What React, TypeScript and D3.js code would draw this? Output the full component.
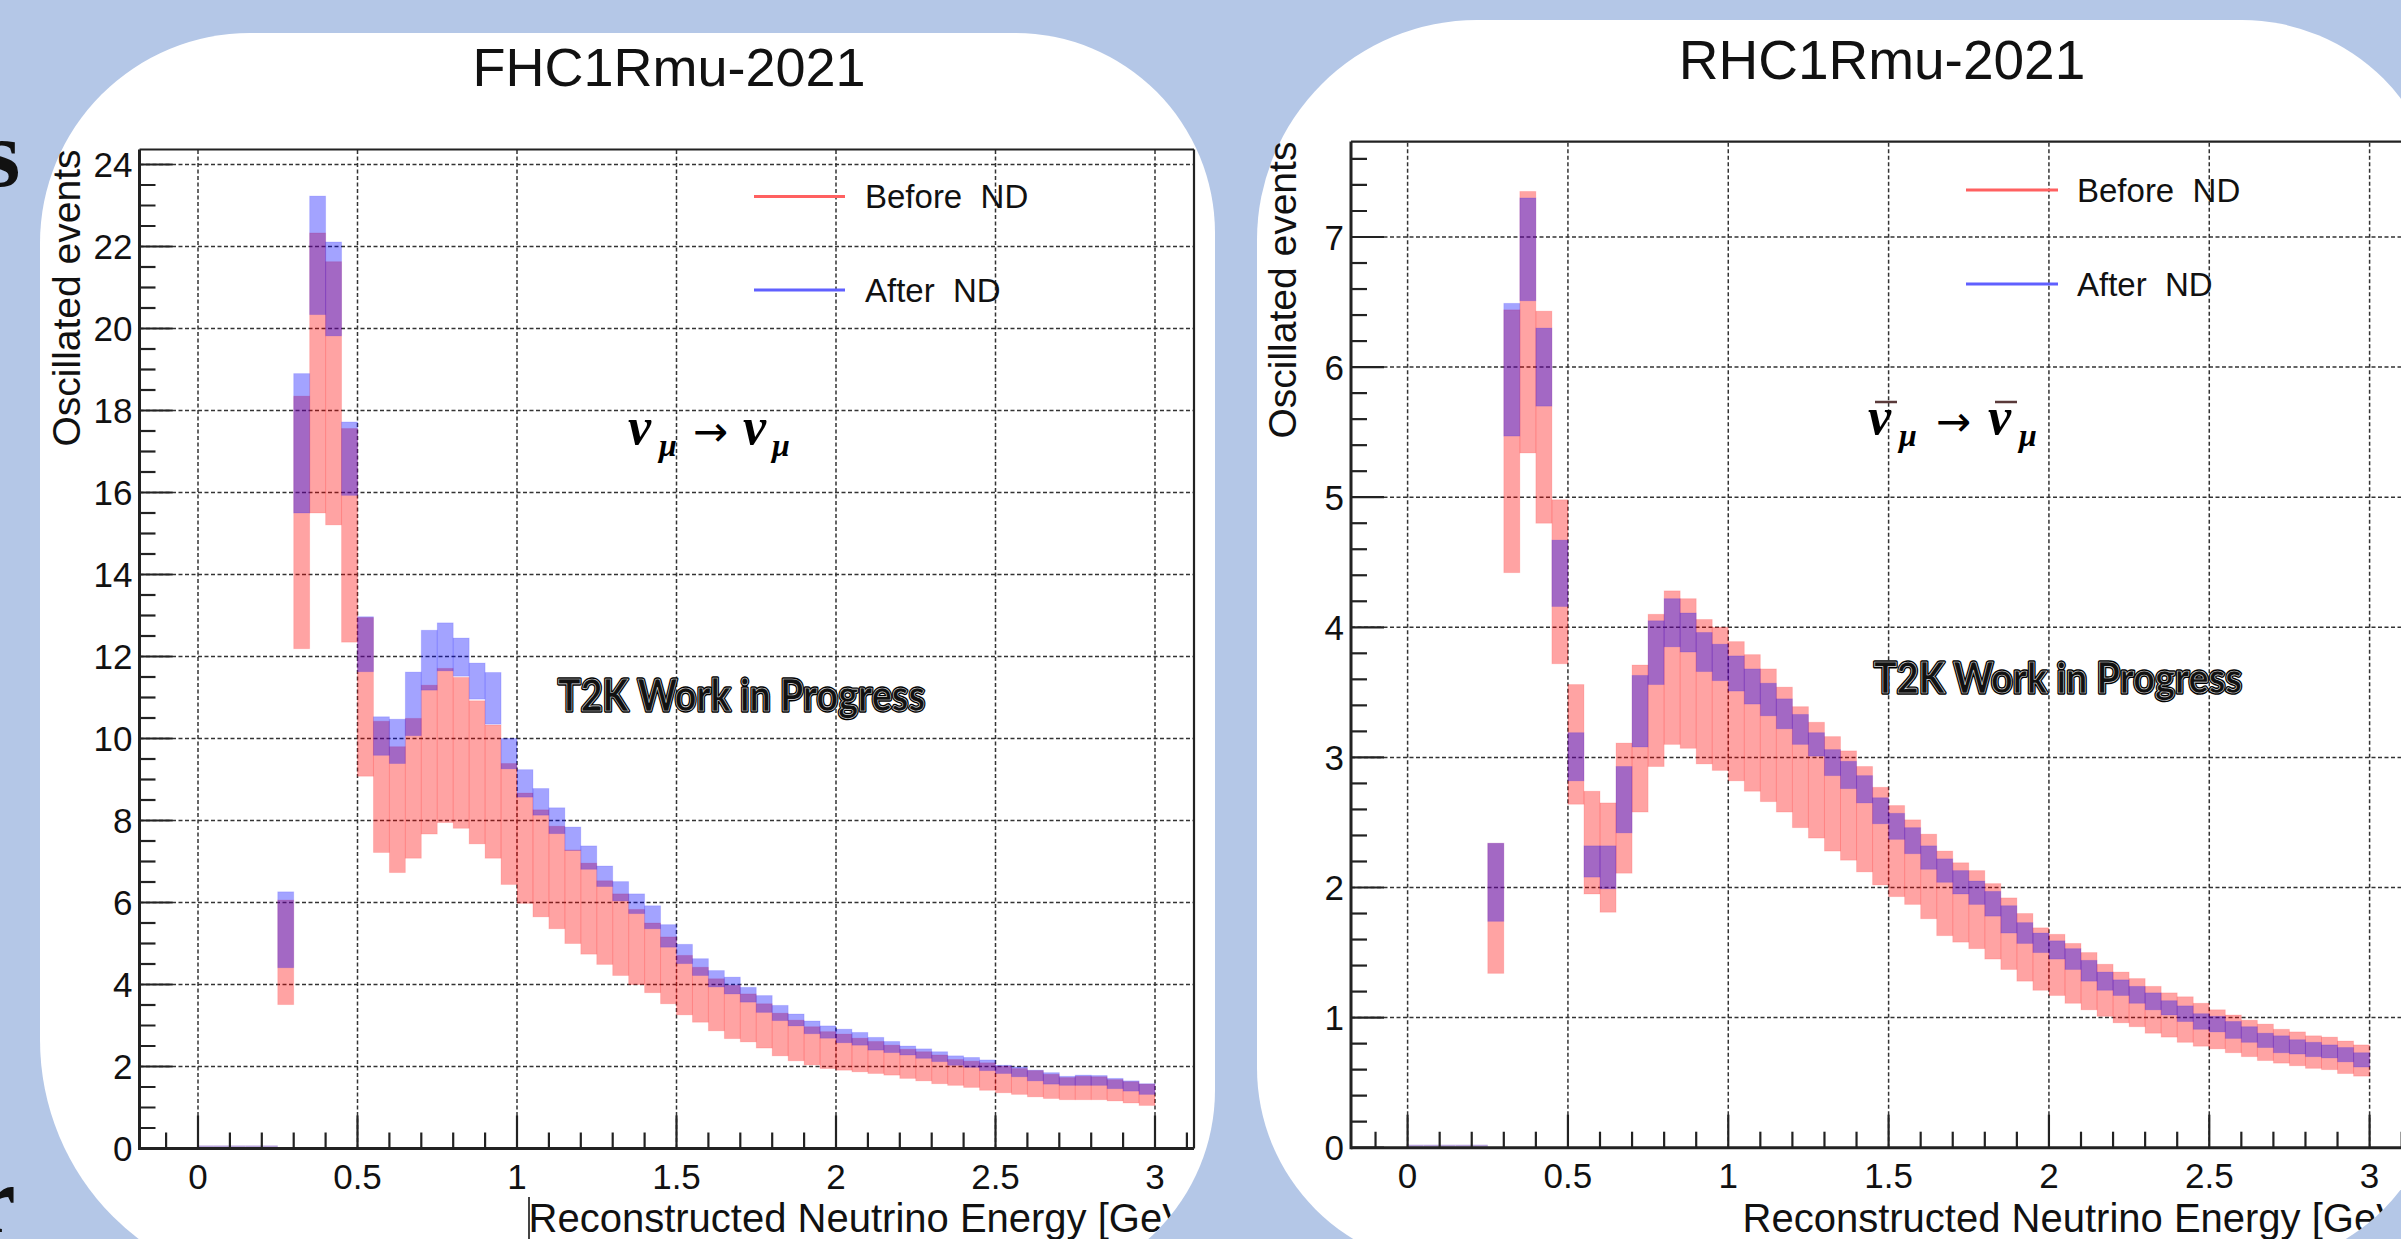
import React from "react";
import * as d3 from "d3";

const W = 2401;
const H = 1239;

// Bin lower edges (GeV), bin width 0.05
const BIN_W = 0.05;
const binStart = [
  0.25, 0.3, 0.35, 0.4, 0.45, 0.5, 0.55, 0.6, 0.65, 0.7, 0.75, 0.8, 0.85, 0.9, 0.95,
  1.0, 1.05, 1.1, 1.15, 1.2, 1.25, 1.3, 1.35, 1.4, 1.45, 1.5, 1.55, 1.6, 1.65, 1.7,
  1.75, 1.8, 1.85, 1.9, 1.95, 2.0, 2.05, 2.1, 2.15, 2.2, 2.25, 2.3, 2.35, 2.4, 2.45,
  2.5, 2.55, 2.6, 2.65, 2.7, 2.75, 2.8, 2.85, 2.9, 2.95,
];
const emptyBinStart = [0, 0.05, 0.1, 0.15, 0.2];

// FHC1Rmu-2021 : error bands
const fhcBeforeLow = [
  3.51, 12.19, 15.5, 15.21, 12.35, 9.08, 7.22, 6.73, 7.08, 7.67, 7.95, 7.81, 7.43, 7.08, 6.44,
  5.98, 5.65, 5.36, 5.0, 4.74, 4.49, 4.22, 4.0, 3.8, 3.53, 3.26, 3.08, 2.87, 2.68, 2.6,
  2.45, 2.26, 2.14, 2.04, 1.95, 1.91, 1.87, 1.83, 1.79, 1.71, 1.65, 1.58, 1.54, 1.49, 1.42,
  1.36, 1.32, 1.26, 1.22, 1.19, 1.19, 1.19, 1.16, 1.11, 1.05,
];
const fhcBeforeHigh = [
  6.06, 18.35, 22.33, 21.63, 17.56, 12.95, 10.42, 9.8, 10.49, 11.3, 11.71, 11.49, 10.92, 10.33, 9.39,
  8.67, 8.26, 7.86, 7.28, 6.96, 6.53, 6.21, 5.83, 5.5, 5.16, 4.71, 4.42, 4.14, 3.98, 3.77,
  3.53, 3.3, 3.13, 2.97, 2.85, 2.79, 2.69, 2.61, 2.52, 2.42, 2.36, 2.28, 2.17, 2.13, 2.09,
  2.01, 1.95, 1.9, 1.81, 1.73, 1.76, 1.75, 1.68, 1.63, 1.57,
];
const fhcAfterLow = [
  4.41, 15.5, 20.34, 19.82, 15.93, 11.63, 9.59, 9.39, 10.07, 11.18, 11.65, 11.52, 10.96, 10.35, 9.26,
  8.57, 8.13, 7.68, 7.27, 6.81, 6.39, 6.04, 5.73, 5.36, 4.91, 4.51, 4.22, 3.94, 3.77, 3.57,
  3.32, 3.12, 2.99, 2.8, 2.69, 2.58, 2.52, 2.4, 2.34, 2.28, 2.2, 2.12, 2.03, 1.98, 1.9,
  1.83, 1.75, 1.65, 1.57, 1.54, 1.54, 1.54, 1.46, 1.4, 1.32,
];
const fhcAfterHigh = [
  6.26, 18.9, 23.23, 22.11, 17.72, 12.97, 10.53, 10.47, 11.62, 12.64, 12.82, 12.45, 11.84, 11.61, 10.0,
  9.24, 8.78, 8.31, 7.84, 7.38, 6.89, 6.51, 6.21, 5.92, 5.46, 4.98, 4.63, 4.34, 4.18, 3.93,
  3.73, 3.49, 3.28, 3.11, 2.99, 2.91, 2.83, 2.71, 2.61, 2.5, 2.43, 2.36, 2.26, 2.22, 2.16,
  2.03, 1.99, 1.91, 1.85, 1.76, 1.79, 1.78, 1.71, 1.65, 1.58,
];

// RHC1Rmu-2021 : error bands
const rhcBeforeLow = [
  1.34, 4.42, 5.34, 4.8, 3.72, 2.64, 1.95, 1.81, 2.11, 2.58, 2.93, 3.1, 3.07, 2.95, 2.9,
  2.82, 2.74, 2.66, 2.58, 2.46, 2.38, 2.28, 2.21, 2.12, 2.02, 1.93, 1.87, 1.76, 1.63, 1.58,
  1.53, 1.45, 1.37, 1.28, 1.21, 1.17, 1.11, 1.06, 1.01, 0.96, 0.93, 0.88, 0.85, 0.81, 0.78,
  0.76, 0.73, 0.7, 0.67, 0.65, 0.63, 0.61, 0.6, 0.57, 0.55,
];
const rhcBeforeHigh = [
  2.34, 6.44, 7.35, 6.43, 4.98, 3.56, 2.74, 2.65, 3.11, 3.71, 4.1, 4.28, 4.22, 4.06, 4.0,
  3.89, 3.79, 3.68, 3.54, 3.39, 3.27, 3.16, 3.05, 2.93, 2.77, 2.63, 2.52, 2.41, 2.28, 2.19,
  2.13, 2.03, 1.92, 1.8, 1.69, 1.64, 1.57, 1.5, 1.41, 1.35, 1.3, 1.24, 1.19, 1.16, 1.11,
  1.06, 1.02, 0.98, 0.95, 0.91, 0.89, 0.86, 0.85, 0.82, 0.79,
];
const rhcAfterLow = [
  1.74, 5.47, 6.51, 5.7, 4.16, 2.82, 2.08, 1.99, 2.42, 3.08, 3.56, 3.85, 3.81, 3.66, 3.59,
  3.51, 3.41, 3.32, 3.22, 3.1, 3.01, 2.86, 2.76, 2.65, 2.49, 2.37, 2.26, 2.14, 2.04, 1.95,
  1.87, 1.78, 1.65, 1.57, 1.5, 1.45, 1.37, 1.28, 1.21, 1.17, 1.11, 1.06, 1.02, 0.97, 0.91,
  0.89, 0.84, 0.81, 0.77, 0.73, 0.72, 0.7, 0.69, 0.66, 0.62,
];
const rhcAfterHigh = [
  2.34, 6.49, 7.3, 6.3, 4.67, 3.19, 2.32, 2.32, 2.93, 3.63, 4.05, 4.22, 4.11, 3.96, 3.87,
  3.78, 3.68, 3.57, 3.45, 3.33, 3.19, 3.06, 2.97, 2.86, 2.69, 2.57, 2.46, 2.32, 2.22, 2.13,
  2.05, 1.97, 1.86, 1.73, 1.65, 1.59, 1.53, 1.44, 1.35, 1.29, 1.24, 1.19, 1.13, 1.09, 1.03,
  1.01, 0.97, 0.93, 0.88, 0.86, 0.83, 0.81, 0.79, 0.77, 0.73,
];

const xTickValues = [0, 0.5, 1, 1.5, 2, 2.5, 3];
const xTickLabels = ["0", "0.5", "1", "1.5", "2", "2.5", "3"];
const fhcYTicks = [0, 2, 4, 6, 8, 10, 12, 14, 16, 18, 20, 22, 24];
const rhcYTicks = [0, 1, 2, 3, 4, 5, 6, 7];
const legendLabels = ["Before  ND", "After  ND"];
const xTitle = "Reconstructed Neutrino Energy [GeV]";
const yTitle = "Oscillated events";
const wipLabel = "T2K Work in Progress";

const RED = "#ff0000";
const BLUE = "#0000ff";
const BAND_OP = 0.36;
const SANS = "'Liberation Sans', Arial, Helvetica, sans-serif";
const SERIF = "'Liberation Serif', 'DejaVu Serif', serif";

function cardPath(l: number, t: number, r: number, b: number, rad: number[]) {
  const [tl, tr, br, bl] = rad;
  return `M${l + tl},${t} H${r - tr} A${tr},${tr} 0 0 1 ${r},${t + tr} V${b - br} A${br},${br} 0 0 1 ${r - br},${b} H${l + bl} A${bl},${bl} 0 0 1 ${l},${b - bl} V${t + tl} A${tl},${tl} 0 0 1 ${l + tl},${t} Z`;
}

type Cfg = {
  id: string;
  card: { l: number; t: number; r: number; b: number; rad: number[] };
  title: string;
  titleX: number;
  titleY: number;
  titleSize: number;
  xPix: [number, number];
  yRef: number;
  yPix: [number, number];
  frame: { l: number; t: number; r: number; b: number };
  yTicks: number[];
  yMinor: number;
  before: [number[], number[]];
  after: [number[], number[]];
  legend: { x1: number; x2: number; tx: number; y: number[] };
  wip: { x: number; y: number; size: number; len: number };
  yTitleX: number;
  xTitleEnd: number;
  anti: boolean;
  edgeLine: boolean;
};

const cfgs: Cfg[] = [
  {
    id: "fhc",
    card: { l: 40, t: 33, r: 1215, b: 1290, rad: [210, 200, 200, 250] },
    title: "FHC1Rmu-2021",
    titleX: 669,
    titleY: 86,
    titleSize: 54,
    xPix: [198, 1155],
    yRef: 24,
    yPix: [1148.5, 164.5],
    frame: { l: 139.5, t: 149.5, r: 1194, b: 1148.5 },
    yTicks: fhcYTicks,
    yMinor: 0.5,
    before: [fhcBeforeLow, fhcBeforeHigh],
    after: [fhcAfterLow, fhcAfterHigh],
    legend: { x1: 754, x2: 845, tx: 865, y: [196.5, 290] },
    wip: { x: 558, y: 711, size: 44, len: 367 },
    yTitleX: 80,
    xTitleEnd: 1200,
    anti: false,
    edgeLine: true,
  },
  {
    id: "rhc",
    card: { l: 1257, t: 20, r: 2442, b: 1268, rad: [220, 200, 200, 200] },
    title: "RHC1Rmu-2021",
    titleX: 1882,
    titleY: 79,
    titleSize: 55,
    xPix: [1407.6, 2369.6],
    yRef: 7,
    yPix: [1147.7, 237],
    frame: { l: 1351, t: 141.6, r: 2408, b: 1147.7 },
    yTicks: rhcYTicks,
    yMinor: 0.2,
    before: [rhcBeforeLow, rhcBeforeHigh],
    after: [rhcAfterLow, rhcAfterHigh],
    legend: { x1: 1966, x2: 2058, tx: 2077, y: [190, 284] },
    wip: { x: 1874, y: 693, size: 42, len: 368 },
    yTitleX: 1296,
    xTitleEnd: 2414,
    anti: true,
    edgeLine: false,
  },
];

function Formula({ anti, x, y }: { anti: boolean; x: number[]; y: number }) {
  const fs = { fontFamily: SERIF, fontStyle: "italic", fontWeight: 700 } as const;
  const [nu1, mu1, arr, nu2, mu2] = x;
  return (
    <g fill="#000">
      <text x={nu1} y={y} fontSize={52} style={fs}>ν</text>
      <text x={mu1} y={y + 12} fontSize={32} style={fs}>μ</text>
      <text x={arr} y={y + 2} fontSize={42} fontFamily="'DejaVu Sans', sans-serif">→</text>
      <text x={nu2} y={y} fontSize={52} style={fs}>ν</text>
      <text x={mu2} y={y + 12} fontSize={32} style={fs}>μ</text>
      {anti && (
        <g stroke="#5a3a3a" strokeWidth={2.5}>
          <line x1={nu1 + 7} x2={nu1 + 29} y1={y - 32} y2={y - 32} />
          <line x1={nu2 + 7} x2={nu2 + 29} y1={y - 32} y2={y - 32} />
        </g>
      )}
    </g>
  );
}

function Panel({ c }: { c: Cfg }) {
  const x = d3.scaleLinear().domain([0, 3]).range(c.xPix);
  const y = d3.scaleLinear().domain([0, c.yRef]).range(c.yPix);
  const f = c.frame;
  const xMin = x.invert(f.l);
  const xMax = x.invert(f.r);
  const yMax = y.invert(f.t);
  const xMinor = d3.range(-10, 40).map((i) => i / 10).filter((v) => v > xMin && v < xMax);
  const nMinorY = Math.floor(yMax / c.yMinor + 1e-6);
  const yMinor = d3.range(0, nMinorY + 1).map((i) => +(i * c.yMinor).toFixed(3));
  const majTick = 33;
  const minTick = 16;
  const dash = "4 2.5";
  const clipId = `clip-${c.id}`;

  const band = (lo: number[], hi: number[], color: string, key: string) =>
    binStart.map((b, i) => (
      <rect
        key={`${key}${i}`}
        x={x(b)}
        y={y(hi[i])}
        width={x(b + BIN_W) - x(b)}
        height={Math.max(0, y(lo[i]) - y(hi[i]))}
        fill={color}
        fillOpacity={BAND_OP}
        stroke={color}
        strokeOpacity={0.12}
        strokeWidth={1}
      />
    ));

  return (
    <g>
      <defs>
        <clipPath id={clipId}>
          <path d={cardPath(c.card.l, c.card.t, c.card.r, c.card.b, c.card.rad)} />
        </clipPath>
      </defs>
      <path d={cardPath(c.card.l, c.card.t, c.card.r, c.card.b, c.card.rad)} fill="#ffffff" />
      <g clipPath={`url(#${clipId})`}>
        <g stroke="#333" strokeWidth={1.5} strokeDasharray={dash}>
          {xTickValues.map((v) => (
            <line key={`gx${v}`} x1={x(v)} x2={x(v)} y1={f.b} y2={f.t} />
          ))}
          {c.yTicks.filter((v) => v > 0).map((v) => (
            <line key={`gy${v}`} x1={f.l} x2={f.r} y1={y(v)} y2={y(v)} />
          ))}
        </g>
        {emptyBinStart.map((b) => (
          <line
            key={`e${b}`}
            x1={x(b)}
            x2={x(b + BIN_W)}
            y1={y(0) - 2}
            y2={y(0) - 2}
            stroke="#b8a4dc"
            strokeWidth={2}
          />
        ))}
        {band(c.before[0], c.before[1], RED, "r")}
        {band(c.after[0], c.after[1], BLUE, "b")}
        <g stroke="#222" fill="none">
          <line x1={f.l} x2={f.r} y1={f.t} y2={f.t} strokeWidth={2.2} />
          <line x1={f.r} x2={f.r} y1={f.t} y2={f.b} strokeWidth={2.2} />
          <line x1={f.l} x2={f.l} y1={f.t} y2={f.b + 1.5} strokeWidth={3} />
          <line x1={f.l} x2={f.r} y1={f.b} y2={f.b} strokeWidth={3} />
        </g>
        <g stroke="#222" strokeWidth={2.2}>
          {xMinor.map((v) => {
            const major = xTickValues.some((t) => Math.abs(t - v) < 1e-6);
            return (
              <line key={`tx${v}`} x1={x(v)} x2={x(v)} y1={f.b} y2={f.b - (major ? majTick : minTick)} />
            );
          })}
          {yMinor.map((v) => {
            const major = c.yTicks.some((t) => Math.abs(t - v) < 1e-6);
            return (
              <line key={`ty${v}`} x1={f.l} x2={f.l + (major ? majTick : minTick)} y1={y(v)} y2={y(v)} />
            );
          })}
        </g>
        <text
          x={c.xTitleEnd}
          y={1232}
          textAnchor="end"
          fontSize={40}
          fontFamily={SANS}
          fill="#111"
        >
          {xTitle}
        </text>
        {c.edgeLine && (
          <line x1={529} x2={529} y1={1197} y2={H} stroke="#444" strokeWidth={2} />
        )}
      </g>
      <text x={c.titleX} y={c.titleY} textAnchor="middle" fontSize={c.titleSize} fontFamily={SANS} fill="#111">
        {c.title}
      </text>
      {c.yTicks.map((v) => (
        <text
          key={`yl${v}`}
          x={f.l - 7}
          y={y(v) + 12.6}
          textAnchor="end"
          fontSize={35}
          fontFamily={SANS}
          fill="#111"
        >
          {String(v)}
        </text>
      ))}
      {xTickValues.map((v, i) => (
        <text
          key={`xl${v}`}
          x={x(v)}
          y={f.b + 40}
          textAnchor="middle"
          fontSize={35}
          fontFamily={SANS}
          fill="#111"
        >
          {xTickLabels[i]}
        </text>
      ))}
      <text
        transform={`translate(${c.yTitleX},${f.t}) rotate(-90)`}
        textAnchor="end"
        fontSize={39}
        fontFamily={SANS}
        fill="#111"
      >
        {yTitle}
      </text>
      {legendLabels.map((lab, i) => (
        <g key={lab}>
          <line
            x1={c.legend.x1}
            x2={c.legend.x2}
            y1={c.legend.y[i]}
            y2={c.legend.y[i]}
            stroke={i === 0 ? "#ff6060" : "#6060ff"}
            strokeWidth={3}
          />
          <text
            x={c.legend.tx}
            y={c.legend.y[i] + 11.8}
            fontSize={33}
            fontFamily={SANS}
            fill="#111"
            style={{ whiteSpace: "pre" }}
          >
            {lab}
          </text>
        </g>
      ))}
      <g fontFamily="Lato, 'Open Sans', sans-serif" fontWeight={700} fontSize={c.wip.size}>
        <text
          x={c.wip.x}
          y={c.wip.y}
          textLength={c.wip.len}
          lengthAdjust="spacingAndGlyphs"
          fill="#000"
          stroke="#000"
          strokeWidth={3.5}
          strokeLinejoin="round"
        >
          {wipLabel}
        </text>
        <text
          x={c.wip.x}
          y={c.wip.y}
          textLength={c.wip.len}
          lengthAdjust="spacingAndGlyphs"
          fill="#111"
          stroke="#ddd"
          strokeWidth={0.7}
        >
          {wipLabel}
        </text>
      </g>
      {c.anti ? (
        <Formula anti x={[1868, 1899, 1936, 1988, 2019]} y={434} />
      ) : (
        <Formula anti={false} x={[628, 659, 693, 743, 772]} y={444} />
      )}
    </g>
  );
}

export default function App() {
  return (
    <div style={{ position: "absolute", left: 0, top: 0, width: W, height: H, overflow: "hidden" }}>
      <svg width={W} height={H} viewBox={`0 0 ${W} ${H}`} style={{ display: "block" }}>
        <rect x={0} y={0} width={W} height={H} fill="#b4c7e7" />
        <text x={-17} y={186} fontSize={96} fontWeight={700} fontFamily={SERIF} fill="#111">s</text>
        <text x={-27} y={1232} fontSize={96} fontWeight={700} fontFamily={SERIF} fill="#111">r</text>
        {cfgs.map((c) => (
          <Panel key={c.id} c={c} />
        ))}
      </svg>
    </div>
  );
}
